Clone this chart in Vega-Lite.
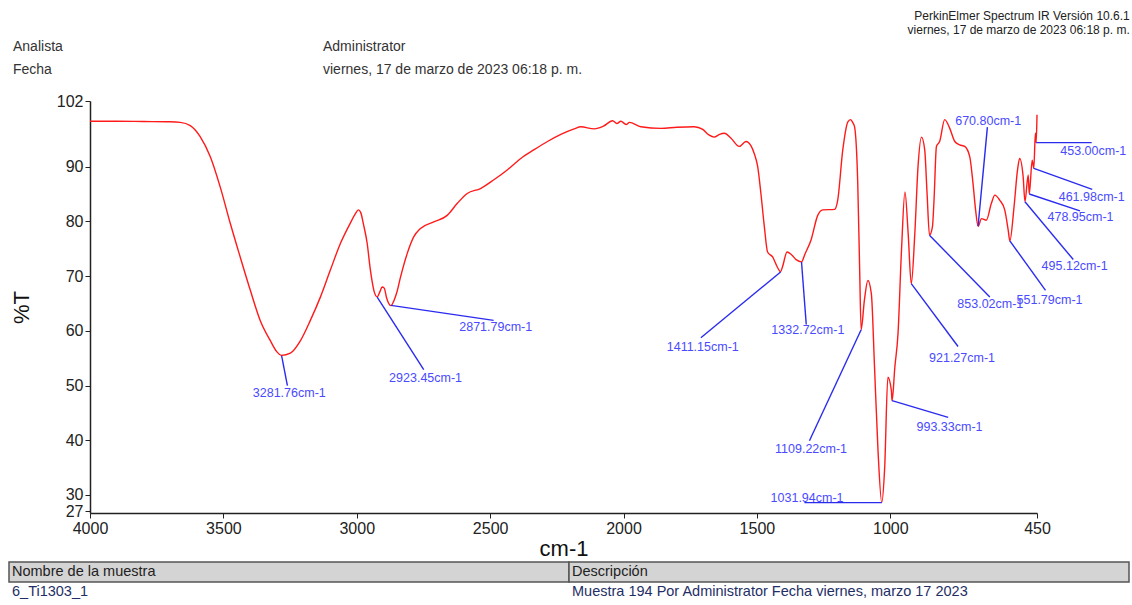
{
  "$schema": "https://vega.github.io/schema/vega-lite/v6.json",
  "padding": {"left": 8, "top": 10, "right": 4, "bottom": 5},
  "config": {"view": {"stroke": null}, "font": "Liberation Sans"},
  "title": {
    "text": ["PerkinElmer Spectrum IR Versión 10.6.1", "viernes, 17 de marzo de 2023 06:18 p. m."],
    "anchor": "end", "align": "right", "fontSize": 12, "fontWeight": "normal", "lineHeight": 14, "color": "#222", "offset": 3
  },
  "columns": 1,
  "spacing": 2,
  "datasets": {
    "espectro": [
      {"wn": 4000, "t": 98.3}, {"wn": 3900, "t": 98.3}, {"wn": 3800, "t": 98.25}, {"wn": 3700, "t": 98.2},
      {"wn": 3662, "t": 98.1}, {"wn": 3624, "t": 97.5}, {"wn": 3587, "t": 95.5}, {"wn": 3549, "t": 91.8},
      {"wn": 3512, "t": 86.3}, {"wn": 3474, "t": 79.6}, {"wn": 3437, "t": 73.5}, {"wn": 3399, "t": 67.4},
      {"wn": 3362, "t": 61.9}, {"wn": 3324, "t": 58.2}, {"wn": 3300, "t": 56.2}, {"wn": 3281.76, "t": 55.5},
      {"wn": 3249, "t": 55.9}, {"wn": 3211, "t": 58.2}, {"wn": 3174, "t": 61.9}, {"wn": 3136, "t": 66.2},
      {"wn": 3099, "t": 71.1}, {"wn": 3061, "t": 76.0}, {"wn": 3024, "t": 79.7}, {"wn": 3005, "t": 81.4},
      {"wn": 2994, "t": 82.1}, {"wn": 2985, "t": 81.6}, {"wn": 2975, "t": 79.5}, {"wn": 2961, "t": 76.0},
      {"wn": 2950, "t": 71.5}, {"wn": 2943, "t": 69.2}, {"wn": 2935, "t": 67.2}, {"wn": 2923.45, "t": 66.2},
      {"wn": 2912, "t": 67.3}, {"wn": 2905, "t": 68.0}, {"wn": 2897, "t": 67.8}, {"wn": 2888, "t": 66.0},
      {"wn": 2871.79, "t": 64.6}, {"wn": 2860, "t": 65.6}, {"wn": 2850, "t": 67.0}, {"wn": 2836, "t": 69.8},
      {"wn": 2811, "t": 74.1}, {"wn": 2786, "t": 77.2}, {"wn": 2761, "t": 78.7}, {"wn": 2711, "t": 79.9},
      {"wn": 2661, "t": 81.1}, {"wn": 2623, "t": 83.3}, {"wn": 2586, "t": 85.1}, {"wn": 2536, "t": 86.0},
      {"wn": 2486, "t": 87.6}, {"wn": 2436, "t": 89.4}, {"wn": 2385, "t": 91.5}, {"wn": 2335, "t": 93.1},
      {"wn": 2285, "t": 94.6}, {"wn": 2235, "t": 95.9}, {"wn": 2185, "t": 96.9}, {"wn": 2160, "t": 97.3},
      {"wn": 2110, "t": 96.9}, {"wn": 2075, "t": 97.4}, {"wn": 2041, "t": 98.4}, {"wn": 2025, "t": 97.9},
      {"wn": 2010, "t": 98.3}, {"wn": 1990, "t": 97.7}, {"wn": 1978, "t": 98.1}, {"wn": 1935, "t": 97.3},
      {"wn": 1860, "t": 97.0}, {"wn": 1800, "t": 97.2}, {"wn": 1735, "t": 97.3}, {"wn": 1703, "t": 96.8},
      {"wn": 1680, "t": 95.8}, {"wn": 1660, "t": 95.4}, {"wn": 1640, "t": 95.9}, {"wn": 1622, "t": 96.1},
      {"wn": 1597, "t": 95.2}, {"wn": 1566, "t": 93.7}, {"wn": 1541, "t": 94.6}, {"wn": 1522, "t": 93.8},
      {"wn": 1510, "t": 92.4}, {"wn": 1497, "t": 90.0}, {"wn": 1485, "t": 85.1}, {"wn": 1472, "t": 79.0},
      {"wn": 1460, "t": 74.4}, {"wn": 1441, "t": 73.5}, {"wn": 1425, "t": 71.8}, {"wn": 1411.15, "t": 70.8},
      {"wn": 1404, "t": 71.7}, {"wn": 1387, "t": 74.4}, {"wn": 1372, "t": 74.0}, {"wn": 1353, "t": 73.0},
      {"wn": 1332.72, "t": 72.6}, {"wn": 1320, "t": 74.0}, {"wn": 1297, "t": 76.6}, {"wn": 1272, "t": 81.1},
      {"wn": 1253, "t": 82.1}, {"wn": 1209, "t": 82.2}, {"wn": 1197, "t": 83.9}, {"wn": 1178, "t": 93.1},
      {"wn": 1159, "t": 98.2}, {"wn": 1149, "t": 98.6}, {"wn": 1140, "t": 98.0}, {"wn": 1134, "t": 97.3},
      {"wn": 1122, "t": 87.0}, {"wn": 1115, "t": 71.7}, {"wn": 1109.22, "t": 60.2}, {"wn": 1097, "t": 65.6},
      {"wn": 1084, "t": 69.2}, {"wn": 1071, "t": 66.8}, {"wn": 1059, "t": 53.3}, {"wn": 1046, "t": 38.1},
      {"wn": 1031.94, "t": 28.6}, {"wn": 1021, "t": 35.0}, {"wn": 1009, "t": 51.5}, {"wn": 996, "t": 49.1},
      {"wn": 993.33, "t": 47.2}, {"wn": 983, "t": 53.3}, {"wn": 971, "t": 59.5}, {"wn": 958, "t": 74.7},
      {"wn": 945, "t": 85.4}, {"wn": 933, "t": 77.8}, {"wn": 921.27, "t": 68.6}, {"wn": 908, "t": 77.8},
      {"wn": 896, "t": 90.0}, {"wn": 883, "t": 95.4}, {"wn": 871, "t": 93.1}, {"wn": 862, "t": 85.0},
      {"wn": 853.02, "t": 77.5}, {"wn": 842, "t": 79.0}, {"wn": 836, "t": 83.9}, {"wn": 827, "t": 93.7},
      {"wn": 815, "t": 94.6}, {"wn": 796, "t": 98.6}, {"wn": 777, "t": 97.0}, {"wn": 758, "t": 94.6},
      {"wn": 740, "t": 94.0}, {"wn": 721, "t": 93.7}, {"wn": 702, "t": 91.8}, {"wn": 690, "t": 87.0},
      {"wn": 680, "t": 82.0}, {"wn": 670.8, "t": 79.1}, {"wn": 658, "t": 80.5}, {"wn": 640, "t": 80.2},
      {"wn": 621, "t": 83.3}, {"wn": 608, "t": 84.8}, {"wn": 590, "t": 83.9}, {"wn": 571, "t": 82.1},
      {"wn": 558, "t": 78.4}, {"wn": 551.79, "t": 76.4}, {"wn": 536, "t": 82.7}, {"wn": 523, "t": 89.4},
      {"wn": 515, "t": 91.5}, {"wn": 502, "t": 88.2}, {"wn": 495.12, "t": 83.6}, {"wn": 483, "t": 88.5},
      {"wn": 478.95, "t": 85.0}, {"wn": 468, "t": 91.2}, {"wn": 461.98, "t": 89.7}, {"wn": 456, "t": 96.1},
      {"wn": 453.0, "t": 94.4}, {"wn": 450, "t": 99.5}
    ],
    "picos": [
      {"wn": 3281.76, "t": 55.48, "lx": 3260, "ly": 49.98, "tx": 3253, "ty": 48.7, "etiqueta": "3281.76cm-1"},
      {"wn": 2923.45, "t": 66.17, "lx": 2749, "ly": 52.91, "tx": 2742, "ty": 51.45, "etiqueta": "2923.45cm-1"},
      {"wn": 2871.79, "t": 64.65, "lx": 2487, "ly": 61.9, "tx": 2479, "ty": 60.67, "etiqueta": "2871.79cm-1"},
      {"wn": 1411.15, "t": 70.75, "lx": 1710, "ly": 58.73, "tx": 1703, "ty": 57.0, "etiqueta": "1411.15cm-1"},
      {"wn": 1332.72, "t": 72.58, "lx": 1315, "ly": 61.16, "tx": 1309, "ty": 60.06, "etiqueta": "1332.72cm-1"},
      {"wn": 1109.22, "t": 60.19, "lx": 1303, "ly": 39.9, "tx": 1297, "ty": 38.38, "etiqueta": "1109.22cm-1"},
      {"wn": 1031.94, "t": 28.59, "lx": 1322, "ly": 28.59, "tx": 1312, "ty": 29.5, "etiqueta": "1031.94cm-1"},
      {"wn": 993.33, "t": 47.23, "lx": 783, "ly": 44.17, "tx": 778, "ty": 42.34, "etiqueta": "993.33cm-1"},
      {"wn": 921.27, "t": 68.62, "lx": 746, "ly": 57.13, "tx": 731, "ty": 55.06, "etiqueta": "921.27cm-1"},
      {"wn": 853.02, "t": 77.48, "lx": 627, "ly": 66.17, "tx": 625, "ty": 64.96, "etiqueta": "853.02cm-1"},
      {"wn": 670.8, "t": 79.13, "lx": 636, "ly": 97.22, "tx": 633, "ty": 98.43, "etiqueta": "670.80cm-1"},
      {"wn": 551.79, "t": 76.43, "lx": 418, "ly": 67.4, "tx": 403, "ty": 65.69, "etiqueta": "551.79cm-1"},
      {"wn": 495.12, "t": 83.58, "lx": 314, "ly": 73.02, "tx": 309, "ty": 71.8, "etiqueta": "495.12cm-1"},
      {"wn": 478.95, "t": 85.0, "lx": 289, "ly": 81.93, "tx": 287, "ty": 80.83, "etiqueta": "478.95cm-1"},
      {"wn": 461.98, "t": 89.7, "lx": 243, "ly": 85.86, "tx": 245, "ty": 84.39, "etiqueta": "461.98cm-1"},
      {"wn": 453.0, "t": 94.4, "lx": 245, "ly": 94.4, "tx": 239, "ty": 92.93, "etiqueta": "453.00cm-1"}
    ]
  },
  "concat": [
    {
      "width": 947,
      "height": 44,
      "data": {"values": [
        {"etiqueta": "Analista", "valor": "Administrator"},
        {"etiqueta": "Fecha", "valor": "viernes, 17 de marzo de 2023 06:18 p. m."}
      ]},
      "transform": [{"fold": ["etiqueta", "valor"], "as": ["columna", "texto"]}],
      "mark": {"type": "text", "align": "left", "baseline": "middle", "fontSize": 14, "color": "#333"},
      "encoding": {
        "x": {"field": "columna", "type": "nominal", "scale": {"type": "point", "padding": 0, "range": [-77, 233]}, "axis": null},
        "y": {"field": "etiqueta", "type": "nominal", "sort": null, "scale": {"type": "point", "padding": 0.45, "align": 0}, "axis": null},
        "text": {"field": "texto"}
      }
    },
    {
      "width": 947,
      "height": 412,
      "layer": [
        {
          "data": {"name": "espectro"},
          "mark": {"type": "line", "color": "#ff1a1a", "strokeWidth": 1.4, "interpolate": "monotone"},
          "encoding": {
            "x": {"field": "wn", "type": "quantitative",
                  "scale": {"domain": [450, 4000], "reverse": true, "nice": false, "zero": false},
                  "axis": {"values": [4000, 3500, 3000, 2500, 2000, 1500, 1000, 450], "format": "d",
                           "title": "cm-1", "titleFontSize": 22, "titleFontWeight": "normal", "titleColor": "#111",
                           "titlePadding": 2, "labelFontSize": 16, "labelColor": "#222", "labelPadding": 2,
                           "tickSize": 5, "tickColor": "#222", "domainColor": "#222", "domainWidth": 1.5, "grid": false, "labelFlush": false}},
            "y": {"field": "t", "type": "quantitative",
                  "scale": {"domain": [26.7, 102], "nice": false, "zero": false},
                  "axis": {"values": [27, 30, 40, 50, 60, 70, 80, 90, 102], "title": "%T",
                           "titleFontSize": 22, "titleFontWeight": "normal", "titleColor": "#111", "titlePadding": 23,
                           "labelFontSize": 16, "labelColor": "#222", "labelPadding": 2, "tickSize": 5,
                           "tickColor": "#222", "domainColor": "#222", "domainWidth": 1.5, "grid": false, "labelFlush": false}}
          }
        },
        {
          "data": {"name": "picos"},
          "mark": {"type": "rule", "color": "#2b2bf0", "strokeWidth": 1.4},
          "encoding": {
            "x": {"field": "wn", "type": "quantitative"},
            "y": {"field": "t", "type": "quantitative"},
            "x2": {"field": "lx"},
            "y2": {"field": "ly"}
          }
        },
        {
          "data": {"name": "picos"},
          "mark": {"type": "text", "color": "#4a4aff", "fontSize": 12.5, "baseline": "middle", "align": "center"},
          "encoding": {
            "x": {"field": "tx", "type": "quantitative"},
            "y": {"field": "ty", "type": "quantitative"},
            "text": {"field": "etiqueta"}
          }
        }
      ]
    },
    {
      "width": 947,
      "height": 40,
      "data": {"values": [
        {"Nombre de la muestra": "6_Ti1303_1", "Descripción": "Muestra 194 Por Administrator Fecha viernes, marzo 17 2023"}
      ]},
      "transform": [{"fold": ["Nombre de la muestra", "Descripción"], "as": ["columna", "valor"]}],
      "layer": [
        {
          "mark": {"type": "rect", "fill": "#d4d4d4", "stroke": "#555", "strokeWidth": 1.5},
          "encoding": {
            "x": {"field": "columna", "type": "nominal", "sort": null, "scale": {"type": "band", "paddingInner": 0, "paddingOuter": 0, "range": [-81, 1039]}, "axis": null},
            "y": {"datum": "encabezado", "type": "nominal", "scale": {"type": "band", "domain": ["encabezado", "fila"], "paddingInner": 0, "paddingOuter": 0}, "axis": null}
          }
        },
        {
          "mark": {"type": "text", "align": "left", "baseline": "middle", "dx": 3, "fontSize": 14.5, "color": "#222"},
          "encoding": {
            "x": {"field": "columna", "type": "nominal", "sort": null, "bandPosition": 0},
            "y": {"datum": "encabezado", "type": "nominal", "bandPosition": 0.5},
            "text": {"field": "columna"}
          }
        },
        {
          "mark": {"type": "text", "align": "left", "baseline": "middle", "dx": 3, "fontSize": 14.5, "color": "#1f2f66"},
          "encoding": {
            "x": {"field": "columna", "type": "nominal", "sort": null, "bandPosition": 0},
            "y": {"datum": "fila", "type": "nominal", "bandPosition": 0.5},
            "text": {"field": "valor"}
          }
        }
      ]
    }
  ]
}
